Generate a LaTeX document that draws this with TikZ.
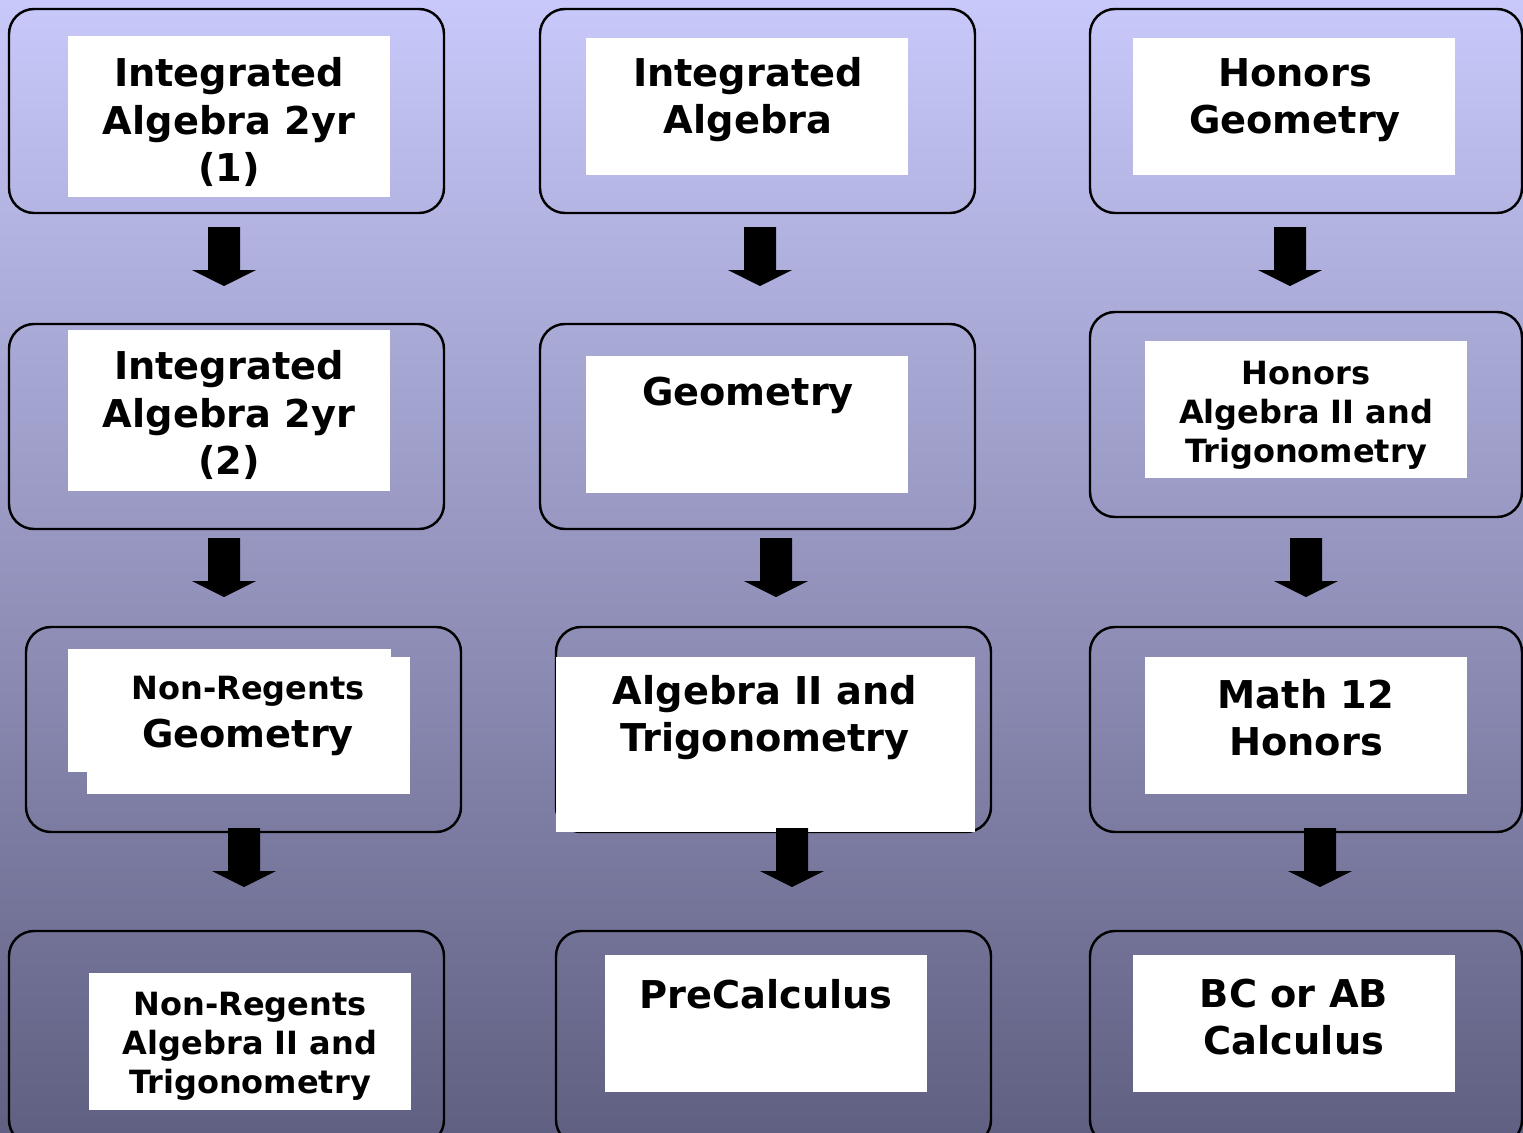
\documentclass[tikz,border=0pt]{standalone}
\usepackage{fontspec}
\setmainfont{DejaVu Sans}
\definecolor{haikeiue}{RGB}{200,200,250}
\definecolor{haikeishita}{RGB}{96,96,130}
\tikzset{
  waku/.style={draw=black,line width=0.7pt,rounded corners=0.25cm},
  moji/.style={font=\fontsize{10.9}{13.4}\selectfont\bfseries,align=center,inner sep=0pt},
  komoji/.style={font=\fontsize{9.1}{11.1}\selectfont\bfseries,align=center,inner sep=0pt}
}
%矢印 (中心x, 上端y)
\newcommand{\yaji}[2]{\fill(#1-16,#2)--(#1+16,#2)--(#1+16,#2+43)--(#1+32,#2+43)--(#1,#2+59)--(#1-32,#2+43)--(#1-16,#2+43)--cycle;}

\begin{document}
\begin{tikzpicture}[x=0.01cm,y=-0.01cm]
\clip(0,0)rectangle(1523,1133);
%背景
\shade[top color=haikeiue,bottom color=haikeishita](0,0)rectangle(1523,1133);

%外枠
\draw[waku](9,9)rectangle(444,213); %枠1-1
\draw[waku](540,9)rectangle(975,213); %枠1-2
\draw[waku](1090,9)rectangle(1522,213); %枠1-3
\draw[waku](9,324)rectangle(444,529); %枠2-1
\draw[waku](540,324)rectangle(975,529); %枠2-2
\draw[waku](1090,312)rectangle(1522,517); %枠2-3
\draw[waku](26,627)rectangle(461,832); %枠3-1
\draw[waku](556,627)rectangle(991,832); %枠3-2
\draw[waku](1090,627)rectangle(1522,832); %枠3-3
\draw[waku](9,931)rectangle(444,1145); %枠4-1
\draw[waku](556,931)rectangle(991,1145); %枠4-2
\draw[waku](1090,931)rectangle(1522,1145); %枠4-3

%白枠
\fill[white](68,36)rectangle(390,197);
\fill[white](586,38)rectangle(908,175);
\fill[white](1133,38)rectangle(1455,175);
\fill[white](68,330)rectangle(390,491);
\fill[white](586,356)rectangle(908,493);
\fill[white](1145,341)rectangle(1467,478);
\fill[white](68,649)rectangle(391,772);
\fill[white](87,657)rectangle(410,794);
\fill[white](556,657)rectangle(975,832);
\fill[white](1145,657)rectangle(1467,794);
\fill[white](89,973)rectangle(411,1110);
\fill[white](605,955)rectangle(927,1092);
\fill[white](1133,955)rectangle(1455,1092);

%矢印
\yaji{224}{227}\yaji{760}{227}\yaji{1290}{227}
\yaji{224}{538}\yaji{776}{538}\yaji{1306}{538}
\yaji{244}{828}\yaji{792}{828}\yaji{1320}{828}

%文字
\node[moji](ia1)at(229,122){Integrated\\Algebra 2yr\\(1)};
\node[moji](ia)at(748,100){Integrated\\Algebra};
\node[moji](hg)at(1295,100){Honors\\Geometry};
\node[moji](ia2)at(229,415){Integrated\\Algebra 2yr\\(2)};
\node[moji](geo)at(748,395){Geometry};
\node[komoji](ha2)at(1306,415){Honors\\Algebra II and\\Trigonometry};
\node[moji](nrg)at(248,716){{\fontsize{9.1}{11.1}\selectfont Non-Regents}\\Geometry};
\node[moji](a2t)at(765,718){Algebra II and\\Trigonometry};
\node[moji](m12)at(1306,718){Math 12\\Honors};
\node[komoji](nra2)at(250,1046){Non-Regents\\Algebra II and\\Trigonometry};
\node[moji](pc)at(766,994){PreCalculus};
\node[moji](calc)at(1294,1017){BC or AB\\Calculus};
\end{tikzpicture}
\end{document}
